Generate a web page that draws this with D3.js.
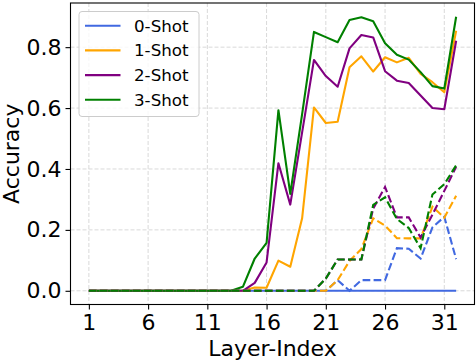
<!DOCTYPE html>
<html>
<head>
<meta charset="utf-8">
<script src="https://cdn.jsdelivr.net/npm/d3@7"></script>
<style>
  body { margin: 0; background: #fff; }
  svg { display: block; font-family: 'DejaVu Sans', sans-serif; }
</style>
</head>
<body>
<div id="chart"></div>
<script>
const layers = d3.range(1, 33);
const xTicks = [1, 6, 11, 16, 21, 26, 31];
const yTicks = [0, 0.2, 0.4, 0.6, 0.8];

const shotNames = ['0-Shot', '1-Shot', '2-Shot', '3-Shot'];
const shotColors = ['royalblue', 'orange', 'purple', 'green'];

// solid lines (layers 1..32)
const zeroShot = [0, 0, 0, 0, 0, 0, 0, 0, 0, 0, 0, 0, 0, 0, 0, 0,
  0, 0, 0, 0, 0, 0, 0, 0, 0, 0, 0, 0, 0, 0, 0, 0];
const oneShot = [0, 0, 0, 0, 0, 0, 0, 0, 0, 0, 0, 0, 0, 0, 0.011, 0.01,
  0.099, 0.079, 0.238, 0.602, 0.551, 0.555, 0.734, 0.77, 0.72, 0.767, 0.75, 0.765, 0.712, 0.685, 0.652, 0.854];
const twoShot = [0, 0, 0, 0, 0, 0, 0, 0, 0, 0, 0, 0, 0, 0, 0.026, 0.093,
  0.419, 0.283, 0.52, 0.758, 0.705, 0.67, 0.796, 0.84, 0.832, 0.721, 0.69, 0.682, 0.641, 0.6, 0.596, 0.821];
const threeShot = [0, 0, 0, 0, 0, 0, 0, 0, 0, 0, 0, 0, 0, 0.013, 0.106, 0.157,
  0.593, 0.318, 0.58, 0.85, 0.833, 0.816, 0.889, 0.898, 0.885, 0.813, 0.775, 0.759, 0.718, 0.672, 0.664, 0.9];

// dashed lines (layers 1..32)
const zeroShotDash = [0, 0, 0, 0, 0, 0, 0, 0, 0, 0, 0, 0, 0, 0, 0, 0,
  0, 0, 0, 0, 0, 0.035, 0, 0.035, 0.035, 0.035, 0.14, 0.138, 0.106, 0.208, 0.243, 0.104];
const oneShotDash = [0, 0, 0, 0, 0, 0, 0, 0, 0, 0, 0, 0, 0, 0, 0, 0,
  0, 0, 0, 0, 0, 0.035, 0.098, 0.137, 0.238, 0.214, 0.173, 0.172, 0.172, 0.276, 0.24, 0.312];
const twoShotDash = [0, 0, 0, 0, 0, 0, 0, 0, 0, 0, 0, 0, 0, 0, 0, 0,
  0, 0, 0, 0, 0.04, 0.103, 0.103, 0.103, 0.27, 0.341, 0.241, 0.241, 0.175, 0.25, 0.328, 0.407];
const threeShotDash = [0, 0, 0, 0, 0, 0, 0, 0, 0, 0, 0, 0, 0, 0, 0, 0,
  0, 0, 0, 0, 0.04, 0.103, 0.103, 0.103, 0.282, 0.307, 0.236, 0.206, 0.14, 0.316, 0.35, 0.412];

const solidSeries = [zeroShot, oneShot, twoShot, threeShot];
const dashSeries = [zeroShotDash, oneShotDash, twoShotDash, threeShotDash];

const w = 476,
  h = 362;
const plotLeft = 70.5,
  plotRight = 474.5,
  plotTop = 3,
  plotBottom = 304.5;

const x = d3.scaleLinear().domain([-0.55, 33.55]).range([plotLeft, plotRight]);
const y = d3.scaleLinear().domain([-0.045, 0.945]).range([plotBottom, plotTop]);

const svg = d3
  .select('#chart')
  .append('svg')
  .attr('width', w)
  .attr('height', h);

// grid
svg
  .append('g')
  .selectAll('line')
  .data(xTicks)
  .join('line')
  .attr('x1', (d) => x(d))
  .attr('x2', (d) => x(d))
  .attr('y1', plotTop)
  .attr('y2', plotBottom)
  .attr('stroke', '#d9d9d9')
  .attr('stroke-width', 1)
  .attr('stroke-dasharray', '4,2');

svg
  .append('g')
  .selectAll('line')
  .data(yTicks)
  .join('line')
  .attr('x1', plotLeft)
  .attr('x2', plotRight)
  .attr('y1', (d) => y(d))
  .attr('y2', (d) => y(d))
  .attr('stroke', '#d9d9d9')
  .attr('stroke-width', 1)
  .attr('stroke-dasharray', '4,2');

const line = d3
  .line()
  .x((d, i) => x(layers[i]))
  .y((d) => y(d));

const plot = svg.append('g');

solidSeries.forEach((s, i) => {
  plot
    .append('path')
    .datum(s)
    .attr('d', line)
    .attr('fill', 'none')
    .attr('stroke', shotColors[i])
    .attr('stroke-width', 2.1)
    .attr('stroke-linejoin', 'round');
});

dashSeries.forEach((s, i) => {
  plot
    .append('path')
    .datum(s)
    .attr('d', line)
    .attr('fill', 'none')
    .attr('stroke', shotColors[i])
    .attr('stroke-width', 2.1)
    .attr('stroke-dasharray', '7.7,3.3');
});

// axes
const xAxis = svg
  .append('g')
  .attr('transform', `translate(0,${plotBottom})`)
  .call(d3.axisBottom(x).tickValues(xTicks).tickSize(5).tickPadding(5));

const yAxis = svg
  .append('g')
  .attr('transform', `translate(${plotLeft},0)`)
  .call(
    d3
      .axisLeft(y)
      .tickValues(yTicks)
      .tickSize(5)
      .tickPadding(4)
      .tickFormat(d3.format('.1f'))
  );

[xAxis, yAxis].forEach((a) => {
  a.select('.domain').remove();
  a.selectAll('.tick line').attr('stroke', '#000').attr('stroke-width', 1.1);
  a.selectAll('.tick text')
    .attr('fill', '#000')
    .style('font-size', '22px')
    .style('font-family', "'DejaVu Sans', sans-serif");
});

// frame
svg
  .append('rect')
  .attr('x', plotLeft)
  .attr('y', plotTop)
  .attr('width', plotRight - plotLeft)
  .attr('height', plotBottom - plotTop)
  .attr('fill', 'none')
  .attr('stroke', '#000')
  .attr('stroke-width', 1.1);

// axis labels
svg
  .append('text')
  .attr('x', (plotLeft + plotRight) / 2)
  .attr('y', 356)
  .attr('text-anchor', 'middle')
  .style('font-size', '22px')
  .text('Layer-Index');

svg
  .append('text')
  .attr('transform', `translate(18.5,${(plotTop + plotBottom) / 2}) rotate(-90)`)
  .attr('text-anchor', 'middle')
  .style('font-size', '22px')
  .text('Accuracy');

// legend
const legend = svg.append('g');
legend
  .append('rect')
  .attr('x', 79)
  .attr('y', 11.5)
  .attr('width', 120)
  .attr('height', 105)
  .attr('rx', 3)
  .attr('fill', 'rgba(255,255,255,0.8)')
  .attr('stroke', '#cccccc')
  .attr('stroke-width', 1);

const items = legend
  .selectAll('g.item')
  .data(shotNames)
  .join('g')
  .attr('class', 'item')
  .attr('transform', (d, i) => `translate(0,${25.7 + i * 24.7})`);

items
  .append('line')
  .attr('x1', 85)
  .attr('x2', 120.5)
  .attr('stroke', (d, i) => shotColors[i])
  .attr('stroke-width', 2.1);

items
  .append('text')
  .attr('x', 134)
  .attr('dy', '0.36em')
  .style('font-size', '16.7px')
  .text((d) => d);
</script>
</body>
</html>
